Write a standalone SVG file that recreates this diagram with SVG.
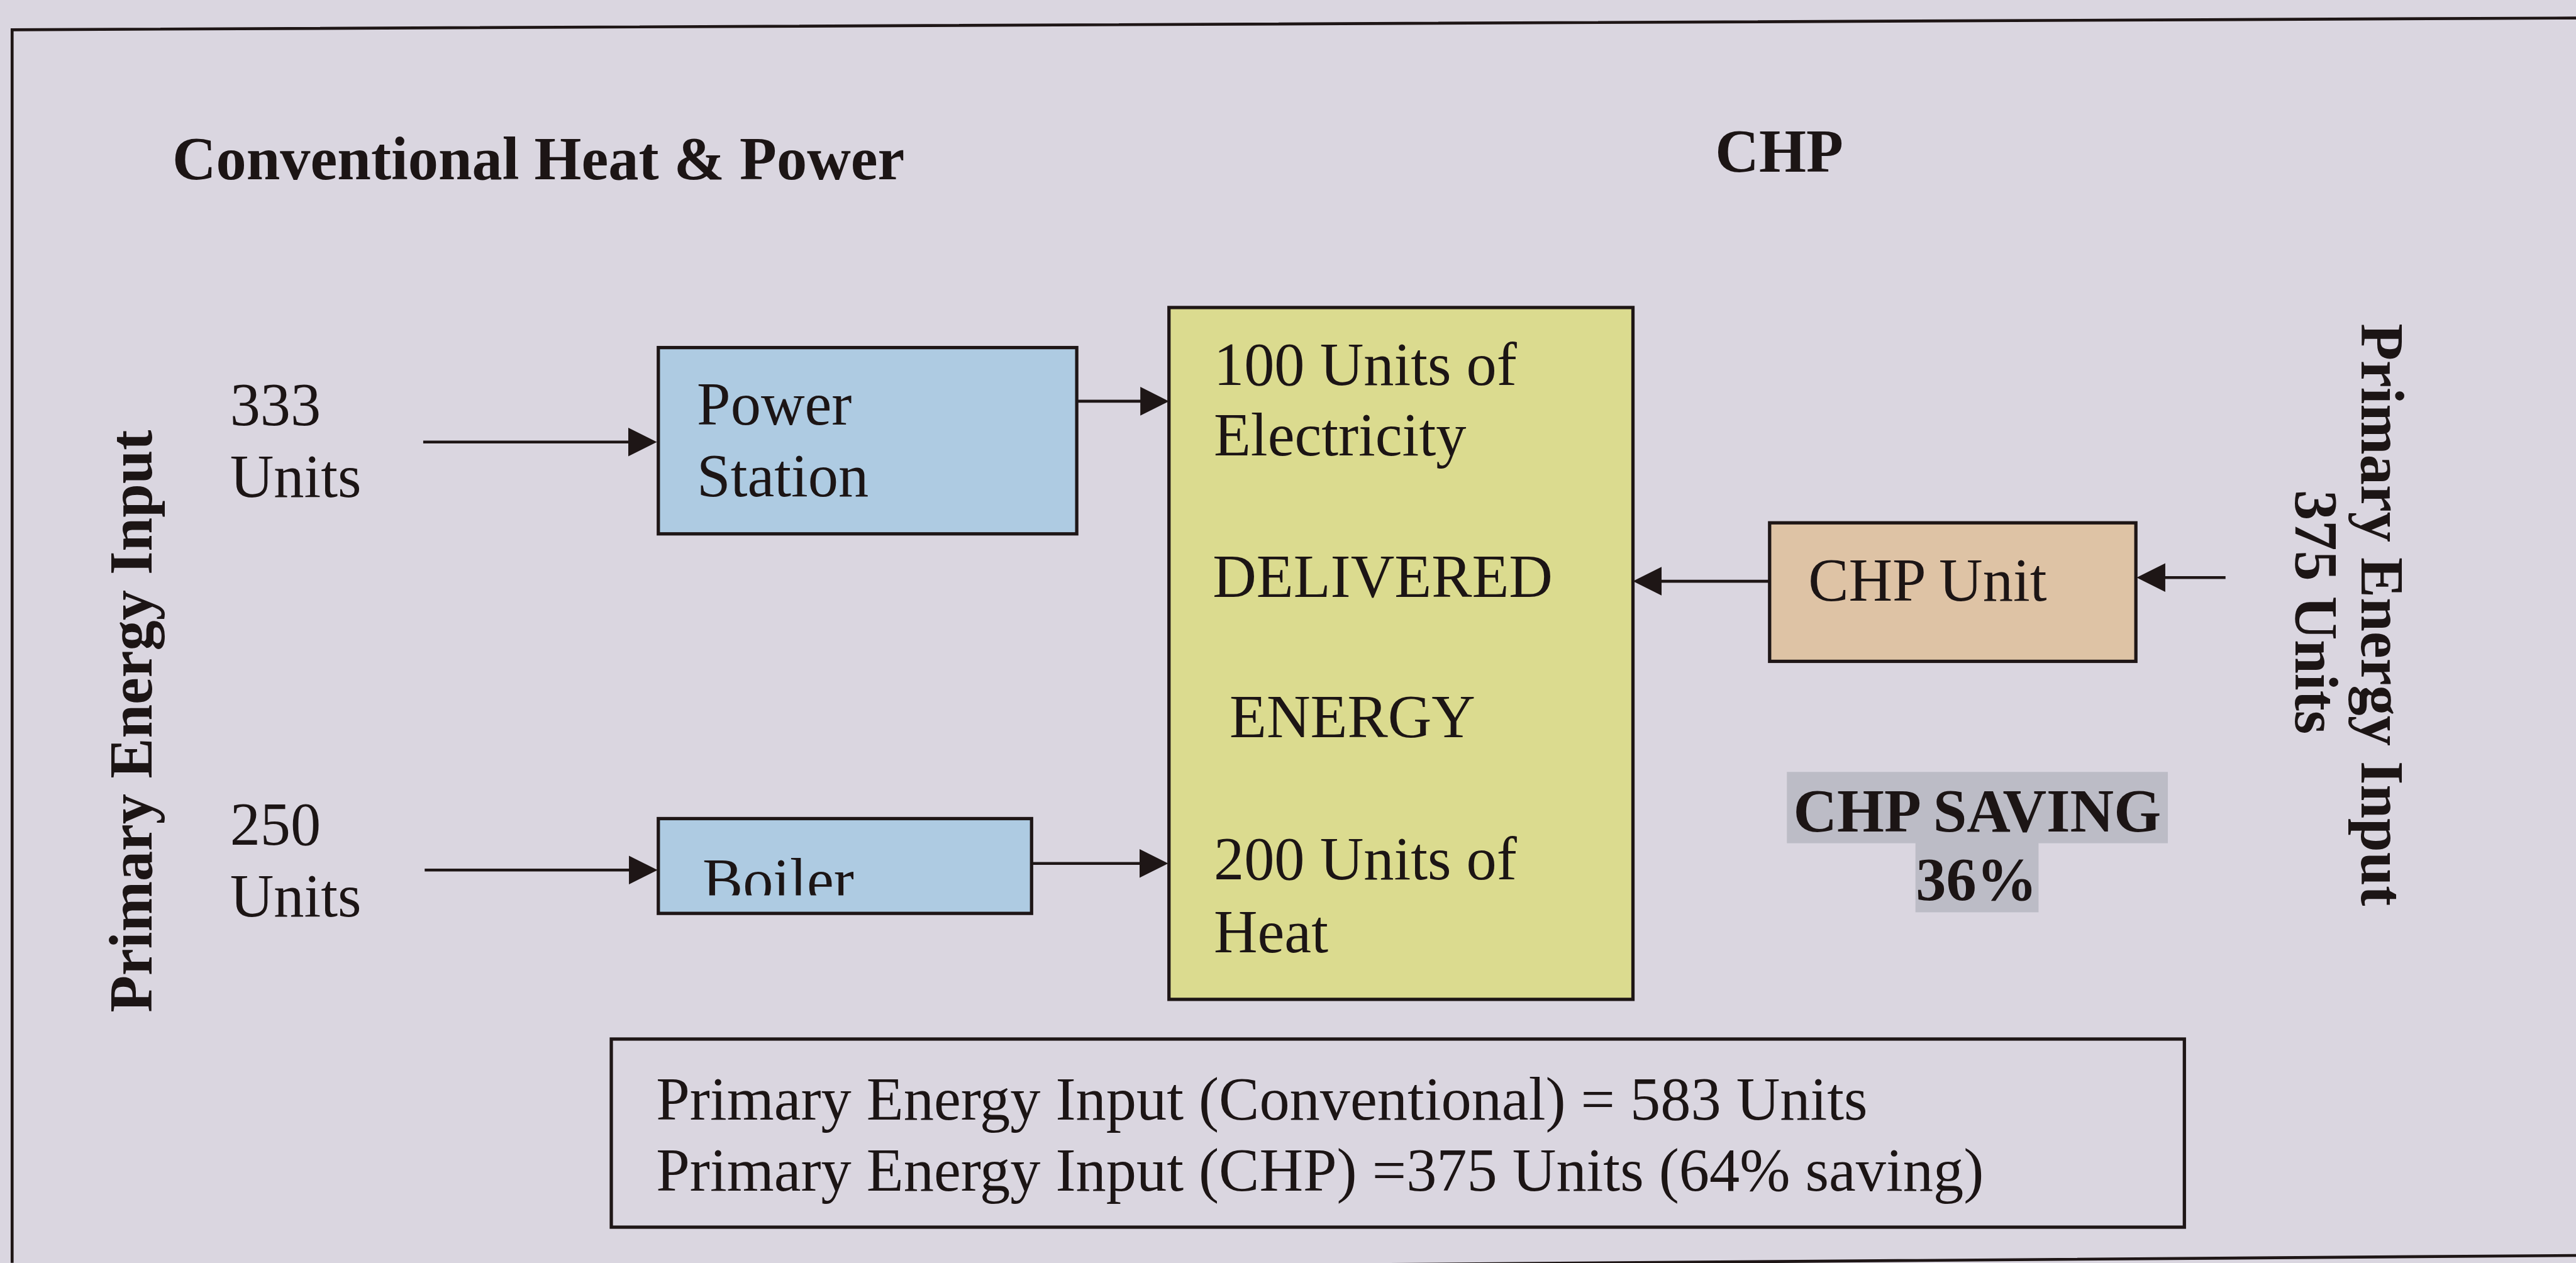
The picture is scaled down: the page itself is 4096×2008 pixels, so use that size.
<svg xmlns="http://www.w3.org/2000/svg" width="4096" height="2008" viewBox="0 0 4096 2008">
<defs>
<style>
.t{font-family:"Liberation Serif","Times New Roman",serif;font-size:165px;fill:#1c1515}
.b{font-weight:bold}
.box{stroke:#1e1616;stroke-width:9}
.ln{stroke:#1e1616;stroke-width:8;fill:none}
</style>
<marker id="ah" viewBox="0 0 10 10" refX="5" refY="5" markerUnits="userSpaceOnUse" markerWidth="78" markerHeight="78" orient="auto">
<path d="M0,0 L10,5 L0,10 z" fill="#1e1616"/>
</marker>
<clipPath id="boilerClip"><rect x="1800" y="2236" width="1000" height="201"/></clipPath>
</defs>
<rect x="0" y="0" width="4096" height="2008" fill="#dad6e0"/>
<g transform="scale(0.58414)">
<g id="frame"><path d="M7012,49 L33,81 L33,3437 M33,3470 L7012,3417" class="ln" stroke-width="7"/></g>
<g id="titles">
<text class="t b" x="469" y="488" font-size="166">Conventional Heat &amp; Power</text>
<text class="t b" x="4669" y="468" font-size="163">CHP</text>
</g>
<g id="left-input">
<text class="t b" transform="translate(413,1963) rotate(-90)" text-anchor="middle" font-size="168">Primary Energy Input</text>
<text class="t" x="626" y="1158">333</text>
<text class="t" x="626" y="1353">Units</text>
<text class="t" x="626" y="2299">250</text>
<text class="t" x="626" y="2495">Units</text>
</g>
<g id="power-station">
<rect class="box" x="1792" y="946" width="1139" height="507" fill="#aecbe2"/>
<text class="t" x="1897" y="1155">Power</text>
<text class="t" x="1897" y="1350">Station</text>
</g>
<g id="boiler">
<rect class="box" x="1792" y="2228" width="1016" height="258" fill="#aecbe2"/>
<text class="t" x="1912" y="2452" clip-path="url(#boilerClip)">Boiler</text>
</g>
<g id="delivered">
<rect class="box" x="3182" y="837" width="1263" height="1883" fill="#dbdb8f"/>
<text class="t" x="3304" y="1048">100 Units of</text>
<text class="t" x="3304" y="1239">Electricity</text>
<text class="t" x="3301" y="1624">DELIVERED</text>
<text class="t" x="3347" y="2007">ENERGY</text>
<text class="t" x="3304" y="2393">200 Units of</text>
<text class="t" x="3304" y="2591">Heat</text>
</g>
<g id="chp-unit">
<rect class="box" x="4817" y="1423" width="997" height="377" fill="#dec3a5"/>
<text class="t" x="4922" y="1635">CHP Unit</text>
</g>
<g id="right-input">
<text class="t b" transform="translate(6428,1673) rotate(90)" text-anchor="middle">Primary Energy Input</text>
<text class="t b" transform="translate(6248,1666) rotate(90)" text-anchor="middle">375 Units</text>
</g>
<g id="chp-saving">
<rect x="4864" y="2101" width="1037" height="194" fill="#bcbcc6"/>
<rect x="5214" y="2294" width="335" height="189" fill="#bcbcc6"/>
<text class="t b" x="5382" y="2263" text-anchor="middle" font-size="163">CHP SAVING</text>
<text class="t b" x="5380" y="2450" text-anchor="middle" font-size="162">36%</text>
</g>
<g id="summary">
<rect class="box" x="1664" y="2828" width="4282" height="512" fill="none"/>
<text class="t" x="1786" y="3047" font-size="168">Primary Energy Input (Conventional) = 583 Units</text>
<text class="t" x="1786" y="3240" font-size="168">Primary Energy Input (CHP) =375 Units (64% saving)</text>
</g>
<g id="connectors">
<line class="ln" x1="1152" y1="1203" x2="1749" y2="1203" marker-end="url(#ah)"/>
<line class="ln" x1="2931" y1="1092" x2="3143" y2="1092" marker-end="url(#ah)"/>
<line class="ln" x1="1156" y1="2368" x2="1751" y2="2368" marker-end="url(#ah)"/>
<line class="ln" x1="2808" y1="2350" x2="3141" y2="2350" marker-end="url(#ah)"/>
<line class="ln" x1="4817" y1="1582" x2="4484" y2="1582" marker-end="url(#ah)"/>
<line class="ln" x1="6058" y1="1572" x2="5855" y2="1572" marker-end="url(#ah)"/>
</g>
</g>
</svg>
